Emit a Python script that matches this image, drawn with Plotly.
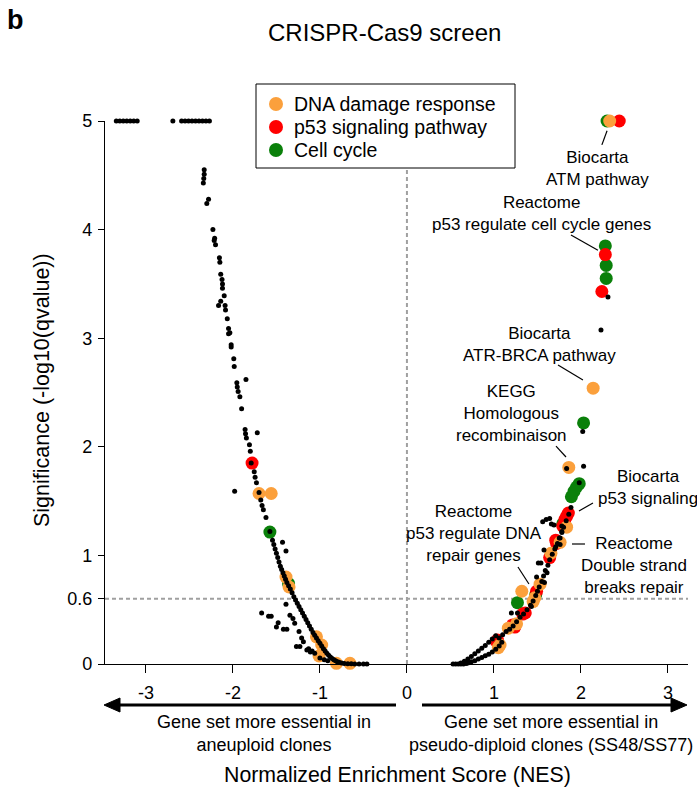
import plotly.graph_objects as go

# ---------------- data ----------------
# all gene sets (black dots): NES and significance (-log10 q, capped at 5)
black_nes = [
    -3.34, -3.30, -3.26, -3.22, -3.18, -3.14, -3.10,
    -2.69, -2.59, -2.55, -2.51, -2.47, -2.43, -2.39, -2.35, -2.31, -2.27,
    -2.33, -2.33, -2.335, -2.34, -2.28, -2.30, -2.23, -2.21, -2.215, -2.20,
    -2.155, -2.15, -2.14, -2.125, -2.12, -2.12, -2.10, -2.14, -2.165, -2.09, -2.085,
    -2.065, -2.05, -2.05, -2.035, -2.02, -2.02, -1.99, -1.985, -1.85, -1.955, -1.95, -1.94,
    -1.92, -1.90, -1.86, -1.72, -1.855, -1.845, -1.81, -1.80, -1.79,
    -1.755, -1.745, -1.73, -1.98, -1.70, -1.68, -1.665, -1.65, -1.62, -1.575,
    -1.545, -1.53, -1.515, -1.50, -1.485, -1.47, -1.455, -1.44, -1.425, -1.41, -1.395,
    -1.38, -1.36, -1.34, -1.32, -1.30, -1.28, -1.26, -1.24, -1.22, -1.20, -1.18, -1.16,
    -1.14, -1.12, -1.10, -1.08, -1.06, -1.04, -1.02, -1.00, -0.98, -0.96, -0.94, -0.92,
    -0.90, -0.88, -0.86, -0.84, -0.82, -0.80, -0.78, -0.75, -0.72, -0.68, -0.64, -0.60,
    -0.55, -0.50, -0.46,
    -1.43, -1.39, -1.39, -1.67, -1.59, -1.56, -1.48, -1.50, -1.42, -1.38, -1.345, -1.31,
    -1.29, -1.24, -1.21, -1.19, -1.27, -1.23, -1.15, -1.11, -1.06, -1.13, -1.09, -1.00,
    -0.95, -0.91,
    0.53, 0.56, 0.59, 0.62, 0.65, 0.68,
    0.62, 0.66, 0.70, 0.74, 0.78, 0.82, 0.86, 0.90, 0.94, 0.98, 1.02,
    0.70, 0.74, 0.78, 0.82, 0.86, 0.90, 0.94, 0.98, 1.02, 1.06, 1.09,
    1.06, 1.10, 1.14, 1.18, 1.22, 1.26, 1.30, 1.34, 1.38, 1.42, 1.45, 1.48, 1.50, 1.52,
    1.55, 1.57, 1.59, 1.62, 1.64, 1.67, 1.70, 1.73, 1.76, 1.78, 1.80, 1.83, 1.86, 1.885,
    1.20, 1.27, 1.43, 1.49, 1.61, 1.58, 1.54, 1.51, 1.575, 1.75, 1.76, 1.71, 1.78, 1.78,
    1.56, 1.60, 1.64, 1.66, 1.69, 1.98, 2.03, 2.02, 2.31, 2.23, 1.835,
]
black_sig = [
    5.0, 5.0, 5.0, 5.0, 5.0, 5.0, 5.0,
    5.0, 5.0, 5.0, 5.0, 5.0, 5.0, 5.0, 5.0, 5.0, 5.0,
    4.55, 4.51, 4.47, 4.43, 4.28, 4.24, 4.00, 3.92, 3.90, 3.86,
    3.74, 3.70, 3.59, 3.54, 3.50, 3.46, 3.39, 3.34, 3.30, 3.30, 3.26,
    3.18, 3.09, 3.04, 3.05, 2.94, 2.92, 2.81, 2.74, 2.62, 2.59, 2.55, 2.51,
    2.46, 2.35, 2.16, 2.13, 2.12, 2.08, 2.02, 1.96, 1.85,
    1.77, 1.72, 1.67, 1.59, 1.58, 1.51, 1.46, 1.42, 1.35, 1.22,
    1.14, 1.10, 1.06, 1.02, 0.98, 0.94, 0.90, 0.87, 0.84, 0.81, 0.78,
    0.75, 0.72, 0.69, 0.655, 0.62, 0.59, 0.56, 0.53, 0.50, 0.47, 0.44, 0.41,
    0.38, 0.35, 0.32, 0.29, 0.265, 0.24, 0.215, 0.19, 0.165, 0.14, 0.12, 0.10,
    0.08, 0.065, 0.05, 0.04, 0.03, 0.02, 0.015, 0.01, 0.005, 0.003, 0.002, 0.0,
    0.0, 0.0, 0.0,
    1.12, 1.04, 0.55, 0.47, 0.44, 0.44, 0.38, 0.34, 0.32, 0.32, 0.45, 0.42,
    0.375, 0.30, 0.24, 0.205, 0.16, 0.16, 0.13, 0.11, 0.10, 0.14, 0.12, 0.055,
    0.04, 0.03,
    0.0, 0.0, 0.0, 0.0, 0.0, 0.005,
    0.01, 0.025, 0.045, 0.07, 0.095, 0.12, 0.145, 0.17, 0.20, 0.23, 0.26,
    0.01, 0.02, 0.03, 0.045, 0.06, 0.075, 0.09, 0.11, 0.135, 0.165, 0.20,
    0.24, 0.27, 0.30, 0.32, 0.35, 0.39, 0.43, 0.46, 0.50, 0.54, 0.58, 0.63, 0.67, 0.71,
    0.76, 0.81, 0.86, 0.91, 0.96, 1.01, 1.06, 1.11, 1.16, 1.21, 1.26, 1.32, 1.38, 1.44,
    0.47, 0.47, 0.53, 0.80, 0.84, 0.75, 0.93, 0.93, 1.05, 1.16, 1.10, 1.08, 1.27, 1.22,
    1.31, 1.33, 1.34, 1.29, 1.28, 1.67, 1.82, 2.14, 3.38, 3.075, 1.80,
]

# DNA damage response gene sets (orange)
dna_nes = [-1.70, -1.56, -1.39, -1.355, -1.04, -0.98, -1.01, -0.81, -0.655,
           2.33, 2.14, 1.86, 1.835, 1.76, 1.655, 1.53, 1.32, 1.47, 1.45, 1.26,
           1.165, 1.07, 1.05]
dna_sig = [1.57, 1.57, 0.80, 0.71, 0.25, 0.175, 0.074, 0.006, 0.006,
           5.0, 2.54, 1.81, 1.26, 1.12, 1.02, 0.735, 0.67, 0.61, 0.575, 0.37,
           0.33, 0.175, 0.15]

# p53 signaling pathway gene sets (red)
p53_nes = [-1.78, 2.44, 2.28, 2.24, 1.855, 1.835, 1.815, 1.79, 1.71, 1.72, 1.64,
           1.49, 1.36, 1.33, 1.215, 1.24, 1.04, 1.03]
p53_sig = [1.85, 5.0, 3.77, 3.43, 1.39, 1.36, 1.33, 1.27, 1.14, 1.11, 0.98,
           0.67, 0.47, 0.46, 0.36, 0.34, 0.22, 0.205]

# Cell cycle gene sets (green)
cc_nes = [-1.575, -1.36, 2.30, 2.28, 2.29, 2.29, 2.03, 1.98, 1.95, 1.92, 1.89,
          1.79, 1.27, 1.48]
cc_sig = [1.215, 0.74, 5.0, 3.85, 3.67, 3.55, 2.22, 1.66, 1.63, 1.59, 1.54,
          1.29, 0.565, 0.64]

category_names = ["DNA damage response", "p53 signaling pathway", "Cell cycle"]

x_ticks = [-3, -2, -1, 0, 1, 2, 3]
x_ticklabels = ["-3", "-2", "-1", "0", "1", "2", "3"]
y_ticks = [0, 0.6, 1, 2, 3, 4, 5]
y_ticklabels = ["0", "0.6", "1", "2", "3", "4", "5"]

# labelled gene sets: (text, label x, label y, leader start, leader end)
labels = [
    ("Biocarta<br>ATM pathway", 2.195, 4.567, (2.30, 4.91), (2.24, 4.78)),
    ("Reactome<br>p53 regulate cell cycle genes", 1.552, 4.15, (1.885, 3.95), (2.195, 3.81)),
    ("Biocarta<br>ATR-BRCA pathway", 1.529, 2.94, (1.736, 2.753), (2.023, 2.615)),
    ("KEGG<br>Homologous<br>recombinaison", 1.207, 2.311, (1.713, 2.007), (1.828, 1.906)),
    ("Biocarta<br>p53 signaling", 2.77, 1.625, (2.138, 1.483), (1.977, 1.409)),
    ("Reactome<br>p53 regulate DNA<br>repair genes", 0.77, 1.206, (1.276, 0.893), (1.402, 0.737)),
    ("Reactome<br>Double strand<br>breaks repair", 2.609, 0.904, (1.897, 1.105), (2.046, 1.105)),
]

FONT = "Liberation Sans, Arial, sans-serif"
ORANGE = "#FBA03C"
RED = "#FF0000"
GREEN = "#0A800A"
category_colors = [ORANGE, RED, GREEN]
XMIN, XMAX = -3.47, 3.23

# page-pixel -> paper helpers (plot area: x 105..688, y 121..664)
L, R, T, B = 105, 688, 121, 664
def px(x):
    return (x - L) / (R - L)
def py(y):
    return (B - y) / (B - T)

fig = go.Figure()
fig.add_trace(go.Scatter(x=cc_nes, y=cc_sig, mode="markers", name=category_names[2],
                         marker=dict(size=13, color=GREEN), cliponaxis=False, showlegend=False))
fig.add_trace(go.Scatter(x=p53_nes, y=p53_sig, mode="markers", name=category_names[1],
                         marker=dict(size=13, color=RED), cliponaxis=False, showlegend=False))
fig.add_trace(go.Scatter(x=dna_nes, y=dna_sig, mode="markers", name=category_names[0],
                         marker=dict(size=13, color=ORANGE), cliponaxis=False, showlegend=False))
fig.add_trace(go.Scatter(x=black_nes, y=black_sig, mode="markers", showlegend=False,
                         marker=dict(size=5, color="black"), cliponaxis=False))

shapes = [
    dict(type="line", x0=0, x1=0, y0=0, y1=5, xref="x", yref="y", layer="below",
         line=dict(color="#A0A0A0", width=2, dash="4px,3px")),
    dict(type="line", x0=XMIN, x1=XMAX, y0=0.6, y1=0.6, xref="x", yref="y", layer="below",
         line=dict(color="#A0A0A0", width=2, dash="4px,3px")),
]
annotations = []
for text, lx, ly, p0, p1 in labels:
    annotations.append(dict(x=lx, y=ly, xref="x", yref="y", text=text, showarrow=False,
                            xanchor="center", yanchor="middle",
                            font=dict(family=FONT, size=17, color="black"), align="center"))
    shapes.append(dict(type="line", x0=p0[0], y0=p0[1], x1=p1[0], y1=p1[1], xref="x", yref="y",
                       line=dict(color="black", width=1.2)))

# direction arrows below the x axis
AY = 705
shapes += [
    dict(type="line", xref="paper", yref="paper", x0=px(396), x1=px(116), y0=py(AY), y1=py(AY),
         line=dict(color="black", width=3)),
    dict(type="path", xref="paper", yref="paper", fillcolor="black", line=dict(color="black", width=1),
         path=f"M {px(104)} {py(AY)} L {px(120)} {py(AY - 7)} L {px(120)} {py(AY + 7)} Z"),
    dict(type="line", xref="paper", yref="paper", x0=px(422), x1=px(675), y0=py(AY), y1=py(AY),
         line=dict(color="black", width=3)),
    dict(type="path", xref="paper", yref="paper", fillcolor="black", line=dict(color="black", width=1),
         path=f"M {px(687)} {py(AY)} L {px(671)} {py(AY - 7)} L {px(671)} {py(AY + 7)} Z"),
]

def ann(x, y, text, size, **kw):
    d = dict(x=px(x), y=py(y), xref="paper", yref="paper", showarrow=False, text=text,
             xanchor="center", yanchor="middle", font=dict(family=FONT, size=size, color="black"))
    d.update(kw)
    return d

# legend box (drawn by hand to match the reference row spacing)
shapes.append(dict(type="rect", xref="paper", yref="paper", x0=px(256), x1=px(515),
                   y0=py(168), y1=py(84), fillcolor="white", line=dict(color="black", width=1),
                   layer="above"))
for i, (name, col) in enumerate(zip(category_names, category_colors)):
    yy = 104 + 23 * i
    shapes.append(dict(type="circle", xref="paper", yref="paper", xsizemode="pixel",
                       ysizemode="pixel", xanchor=px(276), yanchor=py(yy),
                       x0=-7, x1=7, y0=-7, y1=7, fillcolor=col, line=dict(width=0),
                       layer="above"))
    annotations.append(ann(292, yy, name, 19.5, xanchor="left"))

annotations += [
    ann(264, 734, "Gene set more essential in<br>aneuploid clones", 18),
    ann(551, 734, "Gene set more essential in<br>pseudo-diploid clones (SS48/SS77)", 18),
    ann(397, 775, "Normalized Enrichment Score (NES)", 21.3),
    ann(42, 390, "Significance (-log10(qvalue))", 21.5, textangle=-90),
    ann(384, 33, "CRISPR-Cas9 screen", 24),
    ann(15, 20, "<b>b</b>", 27),
]

fig.update_layout(
    width=697, height=792,
    margin=dict(l=L, r=697 - R, t=T, b=792 - B),
    paper_bgcolor="white", plot_bgcolor="white",
    font=dict(family=FONT, size=18, color="black"),
    shapes=shapes, annotations=annotations,
    showlegend=False,
)
fig.update_xaxes(range=[XMIN, XMAX], tickvals=x_ticks, ticktext=x_ticklabels,
                 showgrid=False, zeroline=False, showline=True, linecolor="black", linewidth=1.3,
                 ticks="outside", ticklen=8, tickwidth=1.3, tickcolor="black",
                 ticklabelstandoff=4, tickfont=dict(family=FONT, size=18))
fig.update_yaxes(range=[0, 5], tickvals=y_ticks, ticktext=y_ticklabels,
                 showgrid=False, zeroline=False, showline=True, linecolor="black", linewidth=1.3,
                 ticks="outside", ticklen=6, tickwidth=1.3, tickcolor="black",
                 ticklabelstandoff=2, tickfont=dict(family=FONT, size=18))

fig.write_html("out.html")
